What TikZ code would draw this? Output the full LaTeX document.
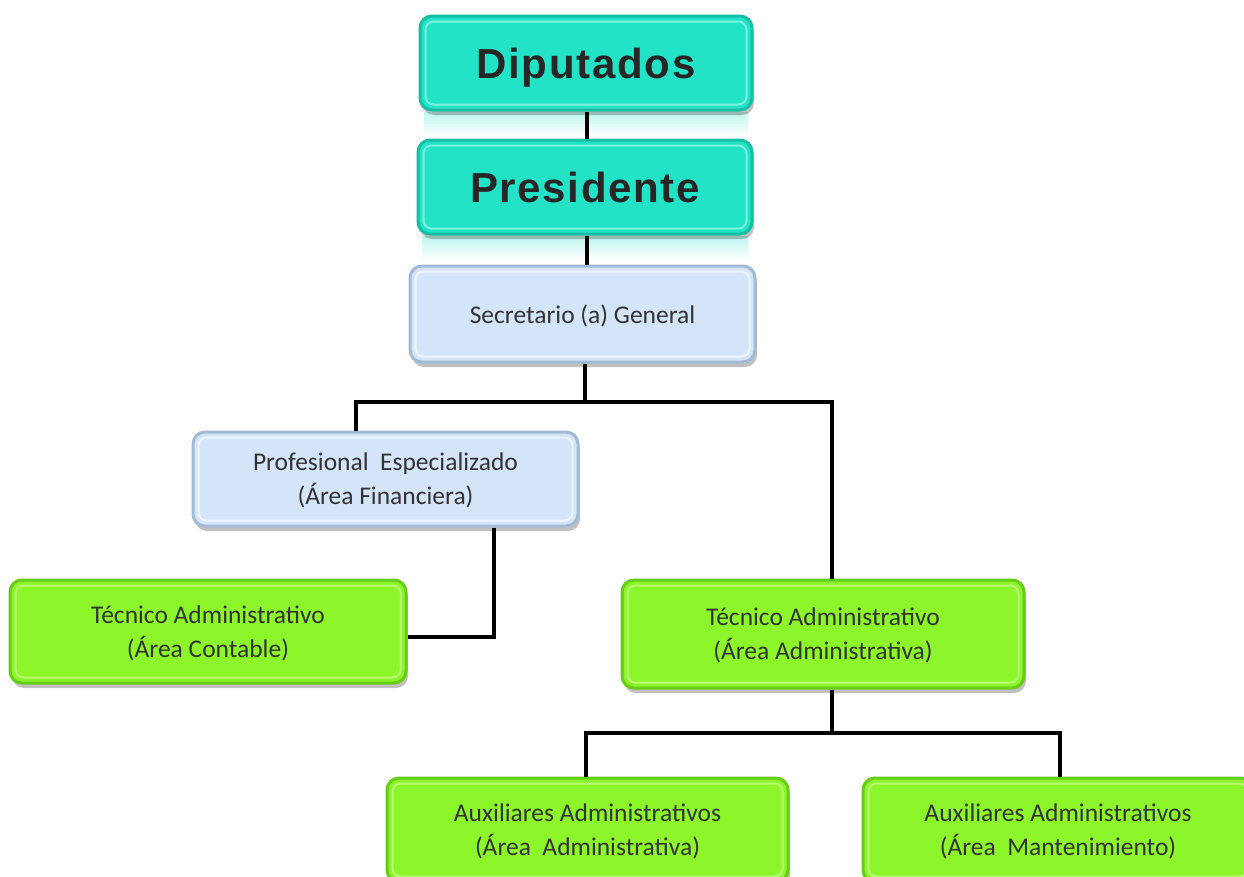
\documentclass[tikz,border=0pt]{standalone}
\usepackage{fontspec}
\setmainfont{Carlito}
\newfontfamily\headfont[LetterSpace=4]{Liberation Sans}
\usetikzlibrary{shadows}
\definecolor{tealF}{HTML}{22E3C6}
\definecolor{tealD}{HTML}{14BFA3}
\definecolor{tealL}{HTML}{7EF2E0}
\definecolor{blueF}{HTML}{D4E5FA}
\definecolor{blueD}{HTML}{A3BAD6}
\definecolor{blueL}{HTML}{EEF5FE}
\definecolor{greenF}{HTML}{8DF62A}
\definecolor{greenD}{HTML}{66CC14}
\definecolor{greenL}{HTML}{B8FB78}
\definecolor{txt}{HTML}{333333}
\begin{document}
\begin{tikzpicture}[x=1pt,y=-1pt,
  basebox/.style={rounded corners=12, line width=3, align=center, text=txt, text depth=0pt,
    drop shadow={shadow xshift=2pt, shadow yshift=-5pt, opacity=0.35, fill=black!70}},
  headbox/.style={basebox, fill=tealF, draw=tealD,
    font=\headfont\bfseries\fontsize{42}{42}\selectfont, text=black!85},
  bluebox/.style={basebox, fill=blueF, draw=blueD, font=\fontsize{25.5}{34}\selectfont},
  greenbox/.style={basebox, fill=greenF, draw=greenD, font=\fontsize{25.5}{34}\selectfont},
  conn/.style={line width=4, black},
  bevel/.style={rounded corners=8, line width=2, draw=#1}
]
\useasboundingbox (0,0) rectangle (1244,876);
\clip (0,0) rectangle (1244,876);
\fill[white] (0,0) rectangle (1244,876);

% reflections under the top boxes
\shade[top color=tealF!30, bottom color=white] (424,112) rectangle (748,136);
\shade[top color=tealF!30, bottom color=white] (422,236) rectangle (748,260);

\node[headbox, minimum width=332, minimum height=94] (dip) at (586,63) {Diputados};
\node[headbox, minimum width=334, minimum height=94] (pres) at (585,187) {Presidente};
\node[bluebox, minimum width=345, minimum height=96] (sec) at (582.5,314) {Secretario (a) General};
\node[bluebox, minimum width=385, minimum height=94] (prof) at (385.5,479) {Profesional~ Especializado\\(Área Financiera)};
\node[greenbox, minimum width=396, minimum height=103] (tcont) at (208,631.5) {Técnico Administrativo\\(Área Contable)};
\node[greenbox, minimum width=402, minimum height=108] (tadm) at (823,634) {Técnico Administrativo\\(Área Administrativa)};
\node[greenbox, minimum width=401, minimum height=104] (aux1) at (587.5,830) {Auxiliares Administrativos\\(Área~ Administrativa)};
\node[greenbox, minimum width=390, minimum height=104] (aux2) at (1058,830) {Auxiliares Administrativos\\(Área~ Mantenimiento)};

\foreach \n/\c in {dip/tealL,pres/tealL,sec/blueL,prof/blueL,tcont/greenL,tadm/greenL,aux1/greenL,aux2/greenL}{
  \draw[bevel=\c] ([shift={(7,7)}]\n.north west) rectangle ([shift={(-7,-7)}]\n.south east);
}

% connectors
\coordinate (t1) at (587,0);
\draw[conn] (dip.south -| t1) -- (pres.north -| t1);
\draw[conn] (pres.south -| t1) -- (sec.north -| t1);
\coordinate (b1) at (585,402);
\draw[conn] (sec.south -| b1) -- (b1);
\draw[conn] ([xshift=-30]prof.north) |- (b1);
\draw[conn] ([xshift=9]tadm.north) |- (b1);
\draw[conn] ([xshift=108]prof.south) |- ([yshift=-5]tcont.east);
\coordinate (b2) at (832,733);
\draw[conn] ([xshift=9]tadm.south) -- (b2);
\draw[conn] ([xshift=-2]aux1.north) |- (b2);
\draw[conn] ([xshift=2]aux2.north) |- (b2);
\end{tikzpicture}
\end{document}
